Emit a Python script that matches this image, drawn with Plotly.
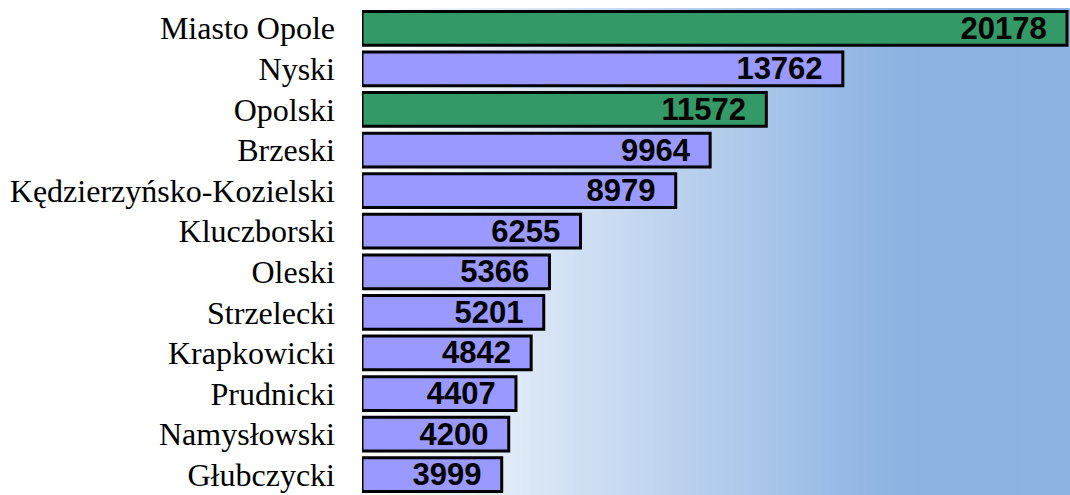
import plotly.graph_objects as go

categories = ["Miasto Opole", "Nyski", "Opolski", "Brzeski", "Kędzierzyńsko-Kozielski",
              "Kluczborski", "Oleski", "Strzelecki", "Krapkowicki", "Prudnicki",
              "Namysłowski", "Głubczycki"]
values = [20178, 13762, 11572, 9964, 8979, 6255, 5366, 5201, 4842, 4407, 4200, 3999]
highlight = ["Miasto Opole", "Opolski"]

GREEN = "#339966"
PURPLE = "#9999FF"
colors = [GREEN if c in highlight else PURPLE for c in categories]
labels = [f"{v}\u00a0\u00a0" for v in values]

fig = go.Figure()
fig.add_trace(go.Bar(
    x=values, y=categories, orientation="h",
    marker=dict(color=colors, line=dict(color="black", width=3)),
    text=labels, textposition="inside", insidetextanchor="end",
    textangle=0, constraintext="none", cliponaxis=False,
    textfont=dict(family="Liberation Sans, Arial", size=31, color="black", weight="bold"),
    hoverinfo="skip",
))

# gradient background: white -> light blue (reaches full colour at ~75% width)
n = 80
c0 = (255, 255, 255)
c1 = (141, 179, 226)
shapes = []
for i in range(n):
    f0 = i / n
    f1 = (i + 1) / n
    t = min(1.0, ((f0 + f1) / 2) / 0.75)
    col = tuple(round(c0[k] + (c1[k] - c0[k]) * t) for k in range(3))
    shapes.append(dict(type="rect", xref="x domain", yref="y domain",
                       x0=f0, x1=f1 + 0.002, y0=0, y1=1, layer="below",
                       line=dict(width=0), fillcolor="rgb(%d,%d,%d)" % col))

fig.update_layout(
    width=1070, height=495,
    margin=dict(l=362, r=0, t=8, b=0, autoexpand=False),
    paper_bgcolor="white", plot_bgcolor="white",
    shapes=shapes, bargap=0.17, showlegend=False, hovermode=False,
    xaxis=dict(range=[0, 20264], visible=False, showgrid=False, zeroline=False,
               automargin=False),
    yaxis=dict(autorange="reversed", showgrid=False, zeroline=False, ticks="",
               ticklabelstandoff=26, automargin=False,
               tickfont=dict(family="Liberation Serif, Times New Roman", size=32, color="black")),
)

# remove the page's default body margin so the figure fills the window exactly
fig.write_html("out.html",
               config={"displayModeBar": False, "staticPlot": True},
               post_script="document.body.style.margin='0';document.body.style.overflow='hidden';")
